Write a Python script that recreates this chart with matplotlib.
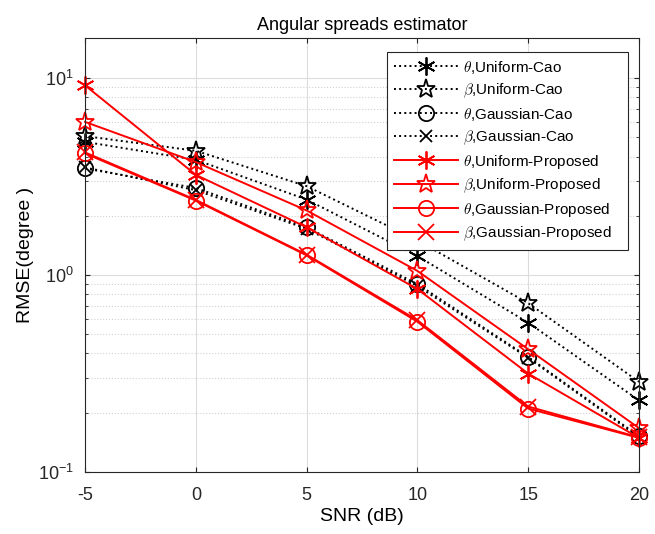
import numpy as np
import matplotlib
matplotlib.use('Agg')
import matplotlib.pyplot as plt

plt.rcParams['font.family'] = ['Liberation Sans', 'DejaVu Sans']
plt.rcParams['mathtext.fontset'] = 'cm'

snr = [-5, 0, 5, 10, 15, 20]

# Cao methods (black dotted)
theta_uni_cao = [4.75, 3.85, 2.42, 1.25, 0.573, 0.231]
beta_uni_cao = [5.08, 4.28, 2.83, 1.50, 0.72, 0.287]
theta_gau_cao = [3.48, 2.77, 1.75, 0.90, 0.384, 0.152]
beta_gau_cao = [3.52, 2.70, 1.72, 0.88, 0.38, 0.150]

# proposed methods (red solid)
theta_uni_prop = [9.2, 3.23, 1.75, 0.85, 0.316, 0.149]
beta_uni_prop = [6.0, 3.75, 2.13, 1.05, 0.42, 0.167]
theta_gau_prop = [4.15, 2.39, 1.26, 0.58, 0.21, 0.149]
beta_gau_prop = [4.2, 2.41, 1.27, 0.59, 0.215, 0.150]

fig = plt.figure(figsize=(6.55, 5.34), dpi=100)
ax = fig.add_axes([0.1298, 0.1161, 0.8458, 0.8127])

ms = 11
ast = (6, 2, 0)
kw = dict(lw=1.4, mew=1.3, clip_on=False)
ax.semilogy(snr, theta_uni_cao, 'k:', marker=ast, ms=ms + 2, label=r'$\theta$,Uniform-Cao', **kw)
ax.semilogy(snr, beta_uni_cao, 'k:', marker='*', ms=ms + 3, mfc='none', label=r'$\beta$,Uniform-Cao', **kw)
ax.semilogy(snr, theta_gau_cao, 'k:', marker='o', ms=ms, mfc='none', label=r'$\theta$,Gaussian-Cao', **kw)
ax.semilogy(snr, beta_gau_cao, 'k:', marker='x', ms=ms - 2, label=r'$\beta$,Gaussian-Cao', **kw)
ax.semilogy(snr, theta_uni_prop, 'r-', marker=ast, ms=ms + 2, label=r'$\theta$,Uniform-Proposed', **kw)
ax.semilogy(snr, beta_uni_prop, 'r-', marker='*', ms=ms + 3, mfc='none', label=r'$\beta$,Uniform-Proposed', **kw)
ax.semilogy(snr, theta_gau_prop, 'r-', marker='o', ms=ms, mfc='none', label=r'$\theta$,Gaussian-Proposed', **kw)
ax.semilogy(snr, beta_gau_prop, 'r-', marker='x', ms=ms, label=r'$\beta$,Gaussian-Proposed', **kw)

ax.set_xlim(-5, 20)
ax.set_ylim(0.1, 16)
ax.set_xticks(snr)
ax.set_xticklabels(['-5', '0', '5', '10', '15', '20'])
ax.grid(True, which='major', color='#dcdcdc', lw=0.8)
ax.grid(True, which='minor', axis='y', color='#d0d0d0', ls=':', lw=0.8)
ax.tick_params(labelsize=13, direction='in', which='both', top=True, right=True, colors='#262626')
ax.tick_params(axis='x', pad=11)
ax.tick_params(axis='y', pad=8)
for s in ax.spines.values():
    s.set_color('#262626')

ax.set_title('Angular spreads estimator', fontsize=13)
ax.set_xlabel('SNR (dB)', fontsize=14, labelpad=3)
ax.set_ylabel('RMSE(degree )', fontsize=14, labelpad=3)

leg = ax.legend(loc='upper right', bbox_to_anchor=(0.980, 0.968), fontsize=11,
                fancybox=False, edgecolor='#262626', framealpha=1, handlelength=4.2,
                borderpad=0.45, labelspacing=0.38, handletextpad=0.3, borderaxespad=0)
leg.get_frame().set_linewidth(0.8)
leg.set_zorder(5)
# MATLAB-style extra room on the right of the legend text
for t in leg.get_texts():
    t.set_text(t.get_text() + '   ')

fig.savefig('out.png', dpi=100)
